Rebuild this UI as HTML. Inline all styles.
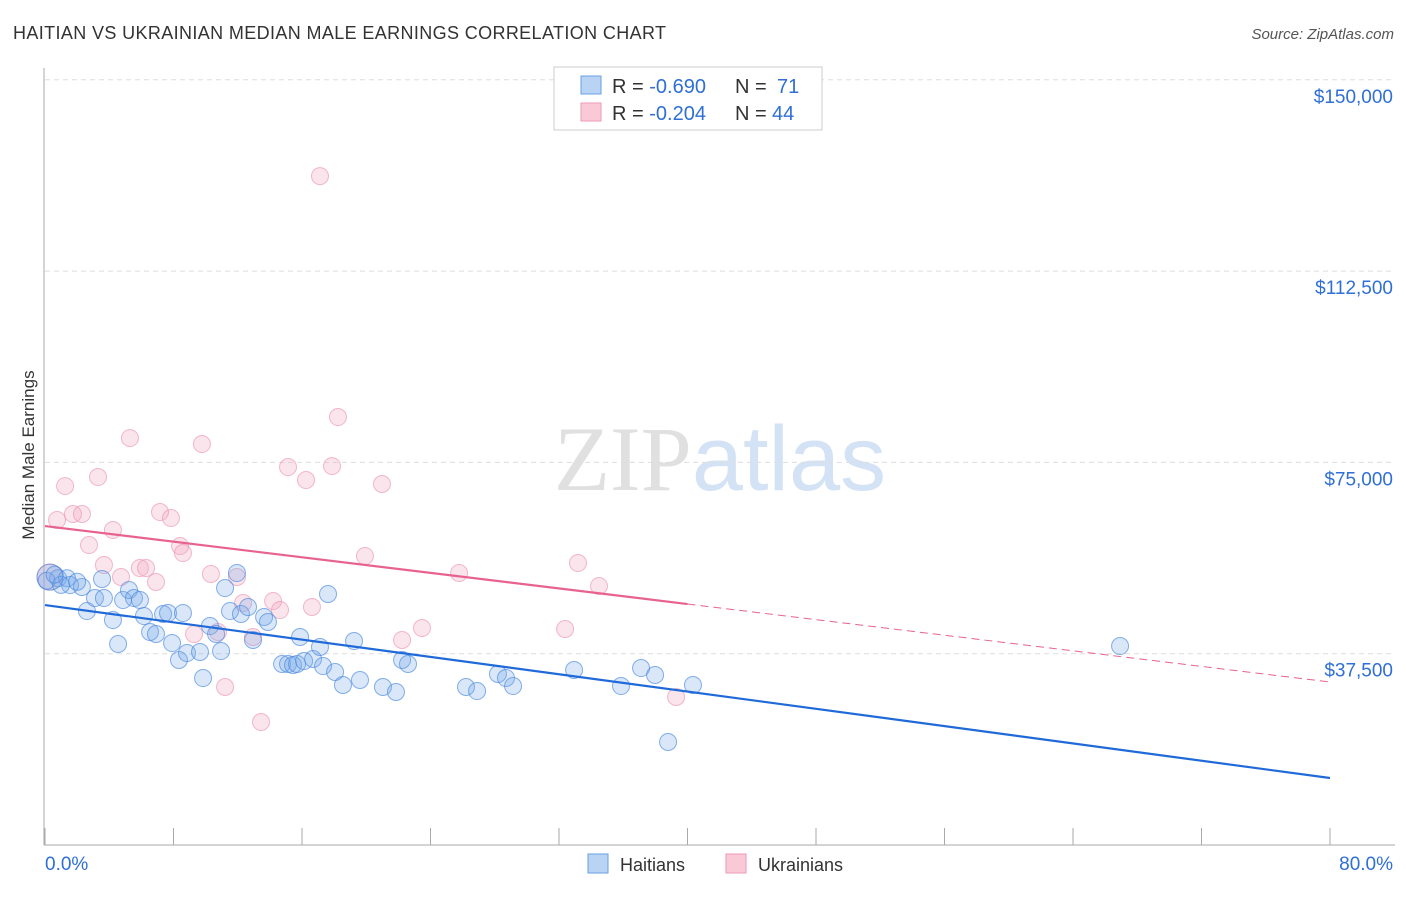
<!DOCTYPE html>
<html><head><meta charset="utf-8">
<style>
body{margin:0;background:#fff;font-family:"Liberation Sans",sans-serif;}
svg text{font-family:"Liberation Sans",sans-serif;}
</style></head>
<body>
<svg id="chart" width="1406" height="892" xmlns="http://www.w3.org/2000/svg">
<text x="13" y="39" font-size="18" fill="#333" textLength="653">HAITIAN VS UKRAINIAN MEDIAN MALE EARNINGS CORRELATION CHART</text>
<text x="1394" y="39" font-size="15" fill="#555" text-anchor="end" font-style="italic">Source: ZipAtlas.com</text>
<text x="720" y="490" font-size="92" text-anchor="middle"><tspan fill="#e0e0e0" font-family="Liberation Serif">ZIP</tspan><tspan fill="#d3e2f5">atlas</tspan></text>
<text transform="translate(34,455) rotate(-90)" font-size="17" fill="#333" text-anchor="middle">Median Male Earnings</text>
<g id="grid"></g>
<g id="marks"></g>
<g>
<rect x="554" y="67" width="268" height="63" fill="#fff" stroke="#ccc"/>
<rect x="581" y="76" width="20" height="18" fill="#b8d3f3" stroke="#6aa0e0"/>
<rect x="581" y="103" width="20" height="18" fill="#f9c9d8" stroke="#ee9ab5"/>
<text x="612" y="93" font-size="20" fill="#333">R = <tspan fill="#2f6fd6">-0.690</tspan><tspan x="735">N = </tspan><tspan x="777" fill="#2f6fd6">71</tspan></text>
<text x="612" y="120" font-size="20" fill="#333">R = <tspan fill="#2f6fd6">-0.204</tspan><tspan x="735">N = </tspan><tspan x="772" fill="#2f6fd6">44</tspan></text>
</g>
<g>
<rect x="588" y="854" width="20" height="19" fill="#b8d3f3" stroke="#6aa0e0"/>
<text x="620" y="871" font-size="18" fill="#333">Haitians</text>
<rect x="726" y="854" width="20" height="19" fill="#f9c9d8" stroke="#ee9ab5"/>
<text x="758" y="871" font-size="18" fill="#333">Ukrainians</text>
</g>
</svg>
<script>
const yTicks=[37500,75000,112500,150000];
const yTickLabels=["$37,500","$75,000","$112,500","$150,000"];
const xTickLabels=["0.0%","80.0%"];
const haitiansX=[0.31,0.81,1.37,1.56,2.30,3.55,2.61,3.11,3.67,4.23,4.55,4.86,5.23,5.54,5.91,6.16,6.54,6.91,7.35,7.66,7.91,8.34,8.59,8.84,9.65,9.84,10.27,10.65,10.96,11.21,11.52,11.95,12.20,12.64,12.95,13.64,13.88,14.76,15.13,15.44,15.69,15.88,16.13,16.69,17.12,17.31,17.62,18.06,18.55,19.24,19.61,21.04,21.85,22.23,22.60,26.21,26.90,28.20,28.70,29.14,32.94,35.86,37.11,37.98,38.79,40.34,66.93,0.1,1.0,2.0,0.6];
const haitiansY=[52500,52300,52300,50960,50570,52140,45860,48410,48410,44100,39400,48020,49980,48410,48020,44880,41750,41360,45280,45470,39590,36260,45470,37630,37830,32730,42920,41360,38020,50370,45860,53310,45280,46650,40180,44690,43710,35480,35480,35280,35480,40770,36060,36460,38810,35080,49200,33910,31360,39980,32340,30970,29990,36260,35480,30970,30180,33520,32730,31160,34300,31160,34690,33320,20190,31360,39000,51800,51000,51600,53000];
const ukrainiansX=[17.12,18.24,5.29,9.77,1.25,3.30,15.13,16.25,17.87,20.98,0.75,1.74,2.30,4.23,7.16,7.84,2.74,8.41,8.59,3.67,4.73,5.91,6.29,6.91,10.33,11.95,19.92,25.78,33.18,34.49,12.33,14.20,14.63,16.62,9.28,10.77,12.95,22.23,23.47,32.38,11.21,13.45,39.29,0.31];
const ukrainiansY=[131120,83890,79770,78600,70360,72130,74090,71540,74280,70760,63700,64880,64880,61740,65270,64090,58800,58600,57230,54880,52530,54290,54290,51550,53120,52530,56640,53310,55270,50760,47430,47820,46060,46650,41360,41750,40770,40180,42530,42340,30970,24110,29010,52530];
const haitiansTrend=[47040,13130];
const ukrainiansTrend=[62520,31950];
const ukrainiansSolidEnd=40;
const NS="http://www.w3.org/2000/svg";
const X0=45,X1=1330,Ybase=845,pxPerUnit=191.3/37500;
function xs(p){return X0+p/80*(X1-X0);}
function ys(v){return Ybase-v*pxPerUnit;}
function mk(tag,attrs,parent){const e=document.createElementNS(NS,tag);for(const k in attrs)e.setAttribute(k,attrs[k]);parent.appendChild(e);return e;}
const grid=document.getElementById('grid');
const marks=document.getElementById('marks');
yTicks.forEach((t,i)=>{
 const l=mk('line',{x1:45,x2:1395,y1:ys(t),y2:ys(t),stroke:'#ddd','stroke-dasharray':'5,4'},grid);
 
 
 const tx=mk('text',{x:1393,y:ys(t)+23,'font-size':19,fill:'#2f6fd6','text-anchor':'end'},grid);
 tx.textContent=yTickLabels[i];
 
 
});
const ya=mk('line',{x1:44,x2:44,y1:68,y2:845,stroke:'#aaa'},grid);


const xa=mk('line',{x1:44,x2:1395,y1:845,y2:845,stroke:'#aaa'},grid);


for(let i=0;i<=10;i++){
 const t=mk('line',{x1:xs(i*8),x2:xs(i*8),y1:828,y2:845,stroke:'#aaa'},grid);
 
 
}
const xl0=mk('text',{x:45,y:870,'font-size':19,fill:'#2f6fd6'},grid);
xl0.textContent=xTickLabels[0];


const xl1=mk('text',{x:1393,y:870,'font-size':19,fill:'#2f6fd6','text-anchor':'end'},grid);
xl1.textContent=xTickLabels[1];


function pts(X,Y,fill,stroke,name,bigIdx){
 X.forEach((x,i)=>{
  const r=(i===bigIdx)?13:8.5;
  const c=mk('circle',{cx:xs(x),cy:ys(Y[i]),r:r,fill:fill,stroke:stroke,'stroke-width':1},marks);
  
  
 });
}
pts(ukrainiansX,ukrainiansY,'rgba(242,160,188,0.28)','rgba(235,140,170,0.6)','ukrainians-point',43);
pts(haitiansX,haitiansY,'rgba(120,170,232,0.28)','rgba(70,135,220,0.65)','haitians-point',0);
function lineAt(tr,p){return tr[0]+(tr[1]-tr[0])*p/80;}
const bl=mk('line',{x1:xs(0),y1:ys(lineAt(haitiansTrend,0)),x2:xs(80),y2:ys(lineAt(haitiansTrend,80)),stroke:'#1f6ad8','stroke-width':2.2},marks);


const pl=mk('line',{x1:xs(0),y1:ys(lineAt(ukrainiansTrend,0)),x2:xs(ukrainiansSolidEnd),y2:ys(lineAt(ukrainiansTrend,ukrainiansSolidEnd)),stroke:'#e8628e','stroke-width':2.2},marks);


const pd=mk('line',{x1:xs(ukrainiansSolidEnd),y1:ys(lineAt(ukrainiansTrend,ukrainiansSolidEnd)),x2:xs(80),y2:ys(lineAt(ukrainiansTrend,80)),stroke:'#e8628e','stroke-width':1,'stroke-dasharray':'8,5'},marks);


</script>
</body></html>
